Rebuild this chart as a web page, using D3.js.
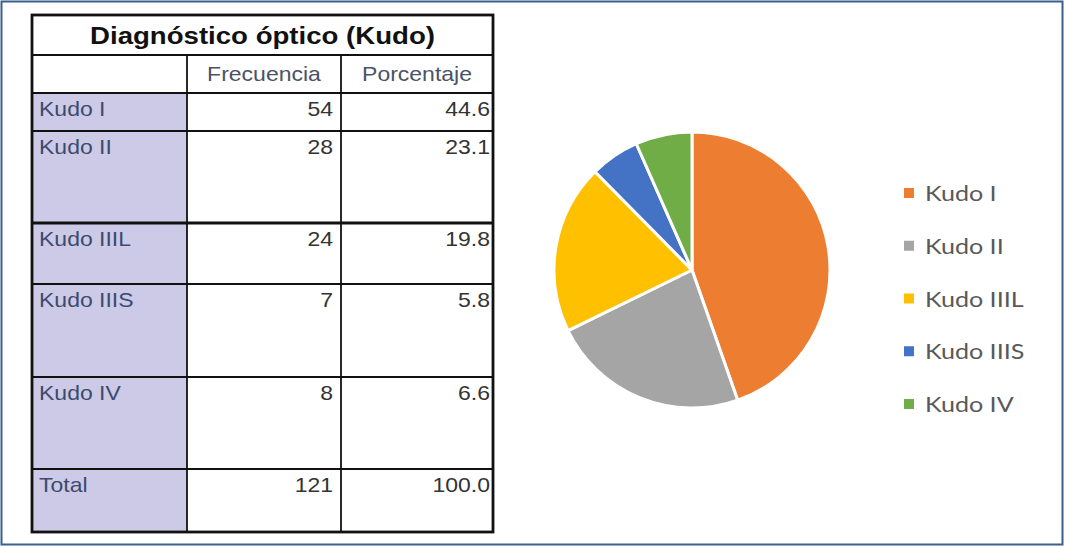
<!DOCTYPE html>
<html>
<head>
<meta charset="utf-8">
<script src="https://cdn.jsdelivr.net/npm/d3@7"></script>
<style>
  html, body { margin: 0; padding: 0; background: #fff; }
  svg { display: block; }
</style>
</head>
<body>
<svg id="chart" width="1065" height="547"></svg>
<script>
const TITLE = "Diagnóstico óptico (Kudo)";
const COLUMNS = ["Frecuencia", "Porcentaje"];
const CATEGORIES = ["Kudo I", "Kudo II", "Kudo IIIL", "Kudo IIIS", "Kudo IV"];
const FREQUENCIES = [54, 28, 24, 7, 8];
const PERCENTAGES = [44.6, 23.1, 19.8, 5.8, 6.6];
const TOTAL_LABEL = "Total";
const TOTAL_FREQ = 121;
const TOTAL_PCT = 100.0;
const COLORS = ["#ED7D31", "#A5A5A5", "#FFC000", "#4472C4", "#70AD47"];

// table layout (pixel edges)
const T_LEFT = 32, T_RIGHT = 493, COL1 = 187, COL2 = 341;
const T_TOP = 15, TITLE_BOTTOM = 55, HEAD_BOTTOM = 93;
const ROW_EDGES = [93, 131, 223, 284, 377, 469, 532];
const SX = 1.15; // the source picture is stretched horizontally

const svg = d3.select("#chart");

svg.append("rect")
  .attr("x", 1.5).attr("y", 1.5).attr("width", 1061).attr("height", 543)
  .attr("fill", "#fff").attr("stroke", "#3b5f8a").attr("stroke-width", 2);

const tbl = svg.append("g").attr("class", "table");

function stretchedText(g, x, y, txt, anchor) {
  return g.append("text")
    .attr("transform", `translate(${x},${y}) scale(${SX},1)`)
    .attr("text-anchor", anchor)
    .text(txt);
}

// label column fill
tbl.append("rect")
  .attr("x", T_LEFT).attr("y", HEAD_BOTTOM)
  .attr("width", COL1 - T_LEFT).attr("height", ROW_EDGES.at(-1) - HEAD_BOTTOM)
  .attr("fill", "#cccae6");

const rows = CATEGORIES.map((c, i) => ({ label: c, freq: FREQUENCIES[i], pct: PERCENTAGES[i] }));
rows.push({ label: TOTAL_LABEL, freq: TOTAL_FREQ, pct: TOTAL_PCT });

// horizontal rules
const hLines = [
  { y: TITLE_BOTTOM, w: 2.2 },
  { y: HEAD_BOTTOM, w: 1.8 },
  ...ROW_EDGES.slice(1, -1).map((y, i) => ({ y, w: i === 1 ? 2.8 : 1.8 }))
];
tbl.selectAll("line.h").data(hLines).join("line")
  .attr("class", "h")
  .attr("x1", T_LEFT).attr("x2", T_RIGHT)
  .attr("y1", d => d.y).attr("y2", d => d.y)
  .attr("stroke", "#111").attr("stroke-width", d => d.w);

// vertical rules below the title row
tbl.selectAll("line.v").data([COL1, COL2]).join("line")
  .attr("class", "v")
  .attr("x1", d => d).attr("x2", d => d)
  .attr("y1", TITLE_BOTTOM).attr("y2", ROW_EDGES.at(-1))
  .attr("stroke", "#111").attr("stroke-width", 1.8);

// outer border
tbl.append("rect")
  .attr("x", T_LEFT).attr("y", T_TOP)
  .attr("width", T_RIGHT - T_LEFT).attr("height", ROW_EDGES.at(-1) - T_TOP)
  .attr("fill", "none").attr("stroke", "#111").attr("stroke-width", 2.8);

// title
stretchedText(tbl, (T_LEFT + T_RIGHT) / 2, 44, TITLE, "middle")
  .attr("font-family", "'Liberation Sans', Arial, sans-serif")
  .attr("font-weight", "bold").attr("font-size", 24).attr("fill", "#111");

// column headers
const headG = tbl.append("g")
  .attr("font-family", "'Liberation Sans', Arial, sans-serif")
  .attr("font-size", 20).attr("fill", "#4a5366");
stretchedText(headG, (COL1 + COL2) / 2, 81, COLUMNS[0], "middle");
stretchedText(headG, (COL2 + T_RIGHT) / 2, 81, COLUMNS[1], "middle");

// body
const bodyG = tbl.append("g")
  .attr("font-family", "'Liberation Sans', Arial, sans-serif")
  .attr("font-size", 20);
rows.forEach((r, i) => {
  const base = ROW_EDGES[i] + 23;
  stretchedText(bodyG, 39, base, r.label, "start").attr("fill", "#3c4a6e");
  stretchedText(bodyG, COL2 - 8, base, String(r.freq), "end").attr("fill", "#333");
  stretchedText(bodyG, T_RIGHT - 3, base, r.pct.toFixed(1), "end").attr("fill", "#333");
});

// pie
const cx = 692, cy = 270, radius = 138;
const pie = d3.pie().sort(null).value(d => d)(FREQUENCIES);
const arc = d3.arc().innerRadius(0).outerRadius(radius);
const color = d3.scaleOrdinal().domain(CATEGORIES).range(COLORS);

svg.append("g").attr("transform", `translate(${cx},${cy})`)
  .selectAll("path").data(pie).join("path")
  .attr("d", arc)
  .attr("fill", (d, i) => color(CATEGORIES[i]))
  .attr("stroke", "#fff").attr("stroke-width", 3).attr("stroke-linejoin", "round");

// legend
const ly = d3.scalePoint().domain(CATEGORIES).range([193, 404]);
const leg = svg.append("g").attr("class", "legend");
const item = leg.selectAll("g").data(CATEGORIES).join("g")
  .attr("transform", d => `translate(904,${ly(d)})`);
item.append("rect")
  .attr("x", 0).attr("y", -5).attr("width", 10).attr("height", 10)
  .attr("fill", d => color(d));
item.append("text")
  .attr("transform", `translate(21,8) scale(1.14,1)`)
  .attr("font-family", "Lato, 'Open Sans', sans-serif")
  .attr("font-size", 22).attr("fill", "#595959")
  .text(d => d);
</script>
</body>
</html>
